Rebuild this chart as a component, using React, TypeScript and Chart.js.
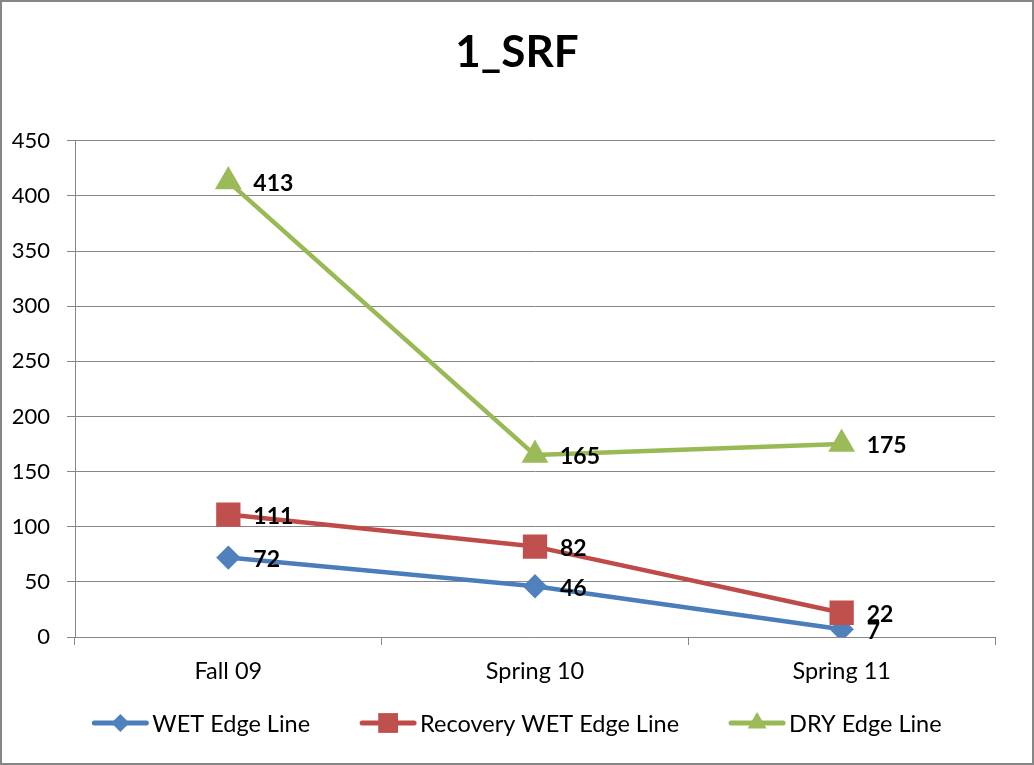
import React, { useEffect, useRef } from 'react';
import { Chart, registerables } from 'chart.js';

Chart.register(...registerables);

const categories = ['Fall 09', 'Spring 10', 'Spring 11'];
const wetEdgeLine = [72, 46, 7];
const recoveryWetEdgeLine = [111, 82, 22];
const dryEdgeLine = [413, 165, 175];
const seriesNames = ['WET Edge Line', 'Recovery WET Edge Line', 'DRY Edge Line'];
const yMin = 0;
const yMax = 450;
const yStep = 50;
const chartTitle = '1_SRF';

const FONT = 'Lato, "Open Sans", "DejaVu Sans", sans-serif';
const GRID = '#868686';

function drawMarker(ctx: CanvasRenderingContext2D, style: string, x: number, y: number, r: number, color: string) {
  ctx.save();
  ctx.fillStyle = color;
  ctx.beginPath();
  if (style === 'rectRot') {
    ctx.moveTo(x, y - r);
    ctx.lineTo(x + r, y);
    ctx.lineTo(x, y + r);
    ctx.lineTo(x - r, y);
    ctx.closePath();
  } else if (style === 'rect') {
    const s = r * Math.SQRT1_2;
    ctx.rect(x - s, y - s, 2 * s, 2 * s);
  } else {
    const a = Math.sin(Math.PI / 3) * r;
    ctx.moveTo(x, y - r);
    ctx.lineTo(x + a, y + r / 2);
    ctx.lineTo(x - a, y + r / 2);
    ctx.closePath();
  }
  ctx.fill();
  ctx.restore();
}

const frameAndLegend = {
  id: 'frameAndLegend',
  afterDraw(chart: any) {
    const ctx: CanvasRenderingContext2D = chart.ctx;
    const W = chart.width;
    const H = chart.height;
    ctx.save();
    ctx.strokeStyle = GRID;
    ctx.lineWidth = 2;
    ctx.strokeRect(1, 1, W - 2, H - 2);

    // legend
    ctx.font = `23.5px ${FONT}`;
    ctx.textBaseline = 'middle';
    ctx.textAlign = 'left';
    const lineLen = 56;
    const gapText = 4;
    const gapItems = 50;
    const ds = chart.data.datasets;
    const widths = ds.map((d: any) => lineLen + gapText + ctx.measureText(d.label).width);
    const total = widths.reduce((a: number, b: number) => a + b, 0) + gapItems * (ds.length - 1);
    let x = W / 2 - total / 2;
    const y = 723;
    ds.forEach((d: any, i: number) => {
      ctx.strokeStyle = d.borderColor;
      ctx.lineWidth = 5;
      ctx.lineCap = 'round';
      ctx.beginPath();
      ctx.moveTo(x + 2, y);
      ctx.lineTo(x + lineLen - 2, y);
      ctx.stroke();
      drawMarker(ctx, d.pointStyle, x + lineLen / 2, y, d.pointRadius, d.pointBackgroundColor);
      ctx.fillStyle = '#000';
      ctx.fillText(d.label, x + lineLen + gapText, y + 1);
      x += widths[i] + gapItems;
    });
    ctx.restore();
  },
};

const dataLabels = {
  id: 'dataLabels',
  afterDatasetsDraw(chart: any) {
    const ctx: CanvasRenderingContext2D = chart.ctx;
    ctx.save();
    ctx.font = `bold 23px ${FONT}`;
    ctx.fillStyle = '#000';
    ctx.textAlign = 'left';
    ctx.textBaseline = 'middle';
    chart.data.datasets.forEach((d: any, i: number) => {
      const meta = chart.getDatasetMeta(i);
      meta.data.forEach((p: any, j: number) => {
        ctx.fillText(String(d.data[j]), p.x + 25, p.y + 2);
      });
    });
    ctx.restore();
  },
};

export default function App() {
  const ref = useRef<HTMLCanvasElement>(null);
  useEffect(() => {
    if (!ref.current) return;
    const chart = new Chart(ref.current, {
      type: 'line',
      data: {
        labels: categories,
        datasets: [
          {
            label: seriesNames[0],
            data: wetEdgeLine,
            borderColor: '#4A7EBB',
            backgroundColor: '#4F81BD',
            pointBackgroundColor: '#4F81BD',
            pointBorderColor: '#4F81BD',
            pointStyle: 'rectRot',
            pointRadius: 9,
            borderWidth: 4.5,
            borderJoinStyle: 'round',
            borderCapStyle: 'round',
            order: 3,
          },
          {
            label: seriesNames[1],
            data: recoveryWetEdgeLine,
            borderColor: '#BE4B48',
            backgroundColor: '#C0504D',
            pointBackgroundColor: '#C0504D',
            pointBorderColor: '#C0504D',
            pointStyle: 'rect',
            pointRadius: 14,
            borderWidth: 4.5,
            borderJoinStyle: 'round',
            borderCapStyle: 'round',
            order: 2,
          },
          {
            label: seriesNames[2],
            data: dryEdgeLine,
            borderColor: '#98B954',
            backgroundColor: '#9BBB59',
            pointBackgroundColor: '#9BBB59',
            pointBorderColor: '#9BBB59',
            pointStyle: 'triangle',
            pointRadius: 11,
            borderWidth: 4.5,
            borderJoinStyle: 'round',
            borderCapStyle: 'round',
            order: 1,
          },
        ] as any,
      },
      options: {
        responsive: false,
        animation: false,
        layout: { padding: { left: 0, right: 0, top: 0, bottom: 68 } },
        plugins: {
          legend: { display: false },
          tooltip: { enabled: false },
          title: {
            display: true,
            text: chartTitle,
            color: '#000',
            font: { family: FONT, size: 44, weight: 'bold' },
            padding: { top: 26, bottom: 62 },
          },
        },
        scales: {
          x: {
            offset: true,
            grid: { display: true, drawOnChartArea: false, drawTicks: true, tickLength: 8, offset: true, color: GRID },
            border: { display: true, color: GRID, width: 1 },
            ticks: { color: '#000', font: { family: FONT, size: 23.5 }, padding: 12 },
            afterFit: (s: any) => { s.height = 60; },
          },
          y: {
            min: yMin,
            max: yMax,
            ticks: { stepSize: yStep, color: '#000', font: { family: FONT, size: 22 }, padding: 17 },
            grid: { color: GRID, tickLength: 8, drawTicks: true },
            border: { display: true, color: GRID, width: 1 },
            afterFit: (s: any) => { s.width = 75; },
          },
          rightSpace: {
            type: 'linear',
            position: 'right',
            display: true,
            grid: { display: false, drawTicks: false },
            border: { display: false },
            ticks: { display: false },
            afterFit: (s: any) => { s.width = 39; },
          },
        },
      },
      plugins: [dataLabels, frameAndLegend],
    });
    return () => chart.destroy();
  }, []);
  return (
    <div style={{ position: 'absolute', left: 0, top: 0, width: 1034, height: 765, background: '#fff' }}>
      <canvas ref={ref} width={1034} height={765} />
    </div>
  );
}
